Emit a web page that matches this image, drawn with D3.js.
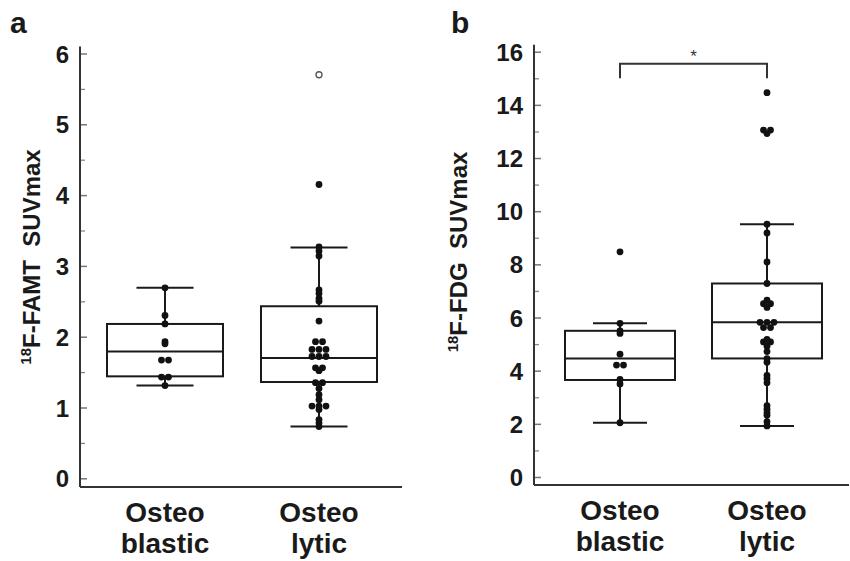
<!DOCTYPE html>
<html lang="en">
<head>
<meta charset="UTF-8">
<title>SUVmax boxplots</title>
<script src="https://d3js.org/d3.v7.min.js"></script>
<style>
  body { margin: 0; background: #fff; }
  svg { font-family: "Liberation Sans", Arial, sans-serif; }
</style>
</head>
<body>
<div id="chart"></div>
<script>
// categories (two-line labels)
var categories = ["blastic", "lytic"];
var catLines = [["Osteo", "blastic"], ["Osteo", "lytic"]];

// panel a : 18F-FAMT SUVmax
var famtTicks = [0, 1, 2, 3, 4, 5, 6];
var famtMinor = [0.5, 1.5, 2.5, 3.5, 4.5, 5.5];
var famtQ1 = [1.44, 1.36];
var famtMedian = [1.79, 1.70];
var famtQ3 = [2.18, 2.43];
var famtWhiskLo = [1.31, 0.73];
var famtWhiskHi = [2.69, 3.26];
var famtBlastic = [2.69, 2.30, 2.18, 1.93, 1.90, 1.67, 1.67, 1.43, 1.43, 1.31];
var famtLytic = [4.15, 3.27, 3.21, 3.14, 2.66, 2.61, 2.54, 2.50, 2.22,
                 1.93, 1.93, 1.82, 1.82, 1.82, 1.72, 1.72, 1.72, 1.56, 1.56, 1.52,
                 1.35, 1.35, 1.27, 1.18, 1.11, 1.02, 1.02, 1.02, 0.97, 0.83, 0.78, 0.73];
var famtOpen = [[], [5.70]];

// panel b : 18F-FDG SUVmax
var fdgTicks = [0, 2, 4, 6, 8, 10, 12, 14, 16];
var fdgMinor = [1, 3, 5, 7, 9, 11, 13, 15];
var fdgQ1 = [3.65, 4.46];
var fdgMedian = [4.46, 5.82];
var fdgQ3 = [5.50, 7.28];
var fdgWhiskLo = [2.04, 1.92];
var fdgWhiskHi = [5.78, 9.51];
var fdgBlastic = [8.47, 5.78, 5.50, 5.40, 4.62, 4.21, 4.21, 3.67, 3.50, 2.04];
var fdgLytic = [14.46, 13.05, 13.05, 12.92, 9.51, 9.18, 8.09, 7.28,
                6.65, 6.52, 6.52, 6.38, 5.82, 5.82, 5.82, 5.62, 5.62,
                5.18, 5.08, 5.08, 4.92, 4.72, 4.45, 4.32, 3.82, 3.70, 3.55,
                2.68, 2.55, 2.42, 2.32, 2.08, 1.92];

var W = 850, H = 561;
var ink = "#1a1a1a";

var svg = d3.select("#chart").append("svg")
    .attr("width", W)
    .attr("height", H);

// equal values sit side by side, others stack on the centre line
function swarm(values, cx, y, gap) {
  var counts = d3.rollup(values, v => v.length, d => d.toFixed(2));
  var seen = {};
  return values.map(function(v) {
    var k = v.toFixed(2), n = counts.get(k);
    seen[k] = (seen[k] || 0);
    var i = seen[k]++;
    return {x: cx + (i - (n - 1) / 2) * gap, y: y(v)};
  });
}

function drawPanel(p) {
  var g = svg.append("g");
  var y = d3.scaleLinear().domain([0, p.yMax]).range([p.y0, p.yTop]);
  var x = d3.scalePoint().domain(categories).range(p.xRange);

  // minor ticks
  var minor = g.append("g")
      .attr("transform", "translate(" + p.axisX + ",0)")
      .call(d3.axisLeft(y).tickValues(p.minor).tickSize(-5).tickFormat(""));
  minor.select(".domain").remove();
  minor.selectAll("line").attr("stroke", "#888").attr("stroke-width", 1.3);

  // major ticks + labels
  var ax = g.append("g")
      .attr("transform", "translate(" + p.axisX + ",0)")
      .call(d3.axisLeft(y).tickValues(p.ticks).tickFormat(d3.format("d"))
        .tickSizeInner(-7).tickSizeOuter(0).tickPadding(11));
  ax.select(".domain").remove();
  ax.selectAll("line").attr("stroke", "#777").attr("stroke-width", 1.5);
  ax.selectAll("text")
      .attr("fill", ink)
      .attr("font-size", 24)
      .attr("font-weight", "bold")
      .attr("dy", "0.36em");

  // axis lines
  g.append("line")
      .attr("x1", p.axisX).attr("x2", p.axisX)
      .attr("y1", y(p.yMax) - 7).attr("y2", p.baseY)
      .attr("stroke", "#333").attr("stroke-width", 2);
  g.append("line")
      .attr("x1", p.axisX).attr("x2", p.axisEnd)
      .attr("y1", p.baseY).attr("y2", p.baseY)
      .attr("stroke", "#333").attr("stroke-width", 2);

  // boxes
  categories.forEach(function(c, i) {
    var cx = x(c);
    g.append("line")
        .attr("x1", cx).attr("x2", cx)
        .attr("y1", y(p.whiskLo[i])).attr("y2", y(p.whiskHi[i]))
        .attr("stroke", ink).attr("stroke-width", 2);
    [p.whiskLo[i], p.whiskHi[i]].forEach(function(v) {
      g.append("line")
          .attr("x1", cx - p.capW / 2).attr("x2", cx + p.capW / 2)
          .attr("y1", y(v)).attr("y2", y(v))
          .attr("stroke", ink).attr("stroke-width", 2);
    });
    g.append("rect")
        .attr("x", cx - p.boxW / 2)
        .attr("y", y(p.q3[i]))
        .attr("width", p.boxW)
        .attr("height", y(p.q1[i]) - y(p.q3[i]))
        .attr("fill", "#fff")
        .attr("stroke", ink).attr("stroke-width", 2);
    g.append("line")
        .attr("x1", cx - p.boxW / 2).attr("x2", cx + p.boxW / 2)
        .attr("y1", y(p.median[i])).attr("y2", y(p.median[i]))
        .attr("stroke", ink).attr("stroke-width", 2);

    g.selectAll(null)
        .data(swarm(p.points[i], cx, y, 7))
        .enter().append("circle")
        .attr("cx", d => d.x)
        .attr("cy", d => d.y)
        .attr("r", 3.4)
        .attr("fill", "#111");

    if (p.open) {
      g.selectAll(null)
          .data(p.open[i])
          .enter().append("circle")
          .attr("cx", cx)
          .attr("cy", d => y(d))
          .attr("r", 3)
          .attr("fill", "#fff")
          .attr("stroke", "#555")
          .attr("stroke-width", 1.3);
    }

    // category labels
    var t = g.append("text")
        .attr("text-anchor", "middle")
        .attr("font-size", 28)
        .attr("font-weight", "bold")
        .attr("fill", ink);
    catLines[i].forEach(function(s, k) {
      t.append("tspan").attr("x", cx).attr("y", p.labelY + k * 31).text(s);
    });
  });

  // y title with superscript
  var title = g.append("text")
      .attr("transform", "translate(" + p.titleX + "," + p.titleY + ") rotate(-90)")
      .attr("text-anchor", "middle")
      .attr("font-weight", "bold")
      .attr("font-size", 24)
      .attr("fill", ink)
      .style("white-space", "pre");
  title.append("tspan").attr("font-size", 15).attr("dy", -9).text("18");
  title.append("tspan").attr("dy", 9).text(p.title);

  // panel letter
  g.append("text")
      .attr("x", p.letterX).attr("y", 33)
      .attr("font-size", 30)
      .attr("font-weight", "bold")
      .attr("fill", ink)
      .text(p.letter);

  return {x: x, y: y, g: g};
}

drawPanel({
  letter: "a", letterX: 10,
  yMax: 6, y0: 478.3, yTop: 53.5,
  ticks: famtTicks, minor: famtMinor,
  axisX: 80, axisEnd: 402, baseY: 487,
  xRange: [165, 319], boxW: 116, capW: 57,
  q1: famtQ1, median: famtMedian, q3: famtQ3,
  whiskLo: famtWhiskLo, whiskHi: famtWhiskHi,
  points: [famtBlastic, famtLytic], open: famtOpen,
  labelY: 522,
  title: "F-FAMT  SUVmax", titleX: 40, titleY: 257
});

var pb = drawPanel({
  letter: "b", letterX: 451,
  yMax: 16, y0: 477, yTop: 51.7,
  ticks: fdgTicks, minor: fdgMinor,
  axisX: 534, axisEnd: 849, baseY: 485,
  xRange: [620, 767], boxW: 110, capW: 54,
  q1: fdgQ1, median: fdgMedian, q3: fdgQ3,
  whiskLo: fdgWhiskLo, whiskHi: fdgWhiskHi,
  points: [fdgBlastic, fdgLytic],
  labelY: 520,
  title: "F-FDG  SUVmax", titleX: 467, titleY: 252
});

// significance bracket
var x1 = pb.x("blastic"), x2 = pb.x("lytic");
pb.g.append("path")
    .attr("d", "M" + x1 + "," + pb.y(15.0) + "V" + pb.y(15.55) + "H" + x2 + "V" + pb.y(15.0))
    .attr("fill", "none")
    .attr("stroke", "#333")
    .attr("stroke-width", 2);
pb.g.append("text")
    .attr("x", (x1 + x2) / 2)
    .attr("y", pb.y(15.55) - 2)
    .attr("text-anchor", "middle")
    .attr("font-size", 17)
    .attr("fill", "#333")
    .text("*");
</script>
</body>
</html>
